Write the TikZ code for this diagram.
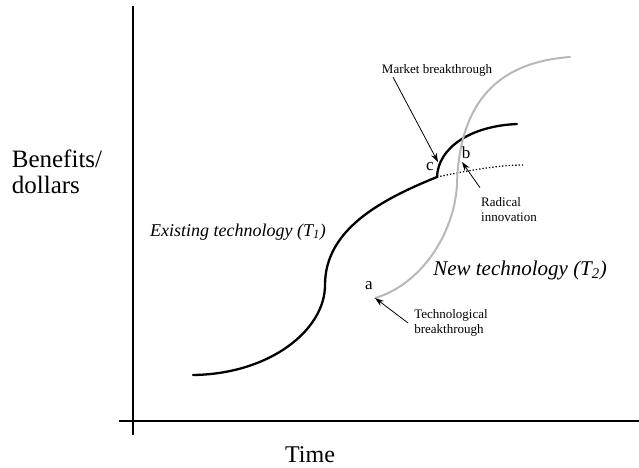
\documentclass[tikz,border=0pt]{standalone}
\usepackage{fontspec}
\setmainfont{Liberation Serif}
\usetikzlibrary{arrows.meta}

\begin{document}
\begin{tikzpicture}[x=1pt,y=-1pt,
                lbl/.style={inner sep=1pt,align=left,font=\fontsize{13}{15}\selectfont},
                pnt/.style={inner sep=0pt,font=\fontsize{17}{17}\selectfont},
                arr/.style={-{Stealth[length=9pt,width=6pt]},line width=0.8pt}]
                \useasboundingbox (0,0) rectangle (639,467);
                \draw[line width=1.5pt] (133,6) -- (133,435);
                \draw[line width=1.5pt] (119,421) -- (639,421);

                \node[align=left,inner sep=0pt,font=\fontsize{25}{26}\selectfont] (benefits) at (57,172) {Benefits/\\dollars};
                \node[inner sep=0pt,font=\fontsize{24}{24}\selectfont] (time) at (310,455) {Time};

                \coordinate (start) at (193,375);
                \coordinate (bend) at (325,285);
                \coordinate (kink) at (437,177);
                \coordinate (top) at (517,124);
                \coordinate (cpt) at (438,162);
                \coordinate (bpt) at (462,162);
                \coordinate (apt) at (375,298);
                \coordinate (mid) at (457,185);

                \draw[line width=2.3pt,line cap=round] (start) .. controls (270,374) and (325,330) .. (bend)
                    .. controls (325,230) and (380,200) .. (kink)
                    .. controls (438,148) and (470,126) .. (top);
                \draw[line width=1.3pt,dotted] (kink) .. controls (470,170) and (500,165) .. (523,165);
                \draw[line width=2pt,color=black!28,line cap=round] (apt) .. controls (420,285) and (454,235) .. (mid)
                    .. controls (459,100) and (500,62) .. (570,57);

                \node[font=\fontsize{18}{18}\selectfont\itshape] (existing) at (238,232) {Existing technology (\textit{T}\textsubscript{\itshape 1})};
                \node[font=\fontsize{21}{21}\selectfont\itshape] (new) at (520,270) {New technology (\textit{T}\textsubscript{\itshape 2})};

                \node[pnt] (c) at (430,167) {c};
                \node[pnt] (b) at (466,153) {b};
                \node[pnt] (a) at (369,286) {a};

                \node[lbl] (market) at (437,70) {Market breakthrough};
                \node[lbl] (radical) at (509,210) {Radical\\innovation};
                \node[lbl] (techno) at (451,323) {Technological\\breakthrough};

                \draw[arr] ([xshift=-44pt]market.south) -- (cpt);
                \draw[arr] ([yshift=9pt]radical.north west) -- (bpt);
                \draw[arr] ([xshift=-5pt]techno.west) -- (apt);
            \end{tikzpicture}
\end{document}
